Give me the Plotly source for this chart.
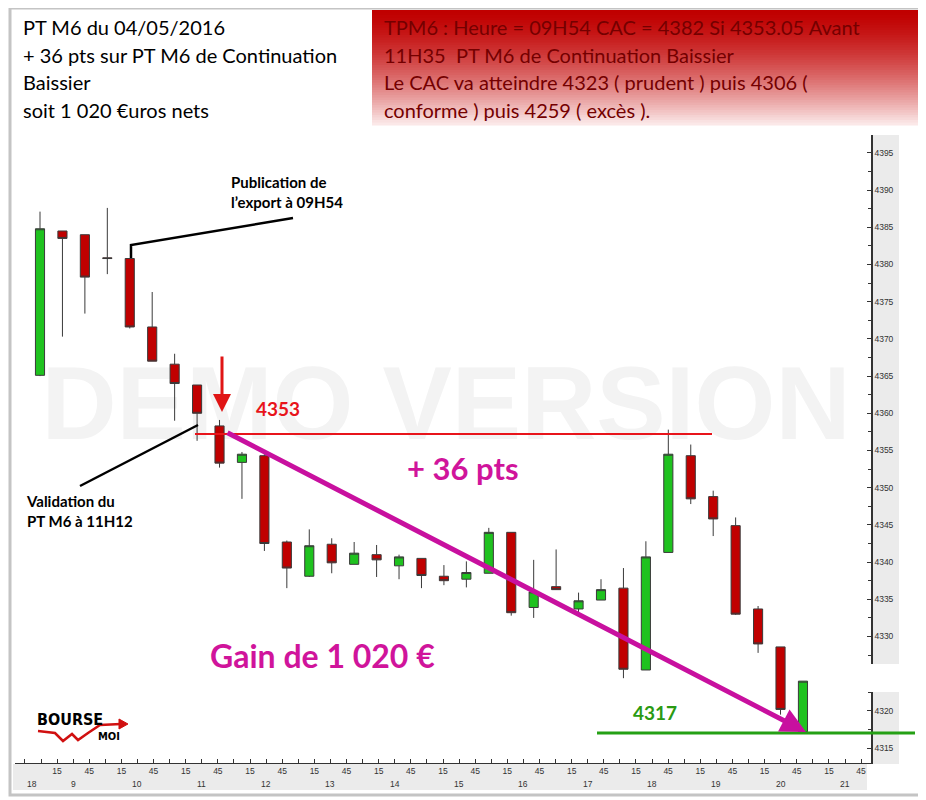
import plotly.graph_objects as go

# ---------------- data ----------------
opens  = [4365.1, 4384.5, 4384.0, 4380.9, 4380.8, 4371.6, 4366.6, 4363.8, 4358.3, 4353.4,
          4354.3, 4342.7, 4338.1, 4342.4, 4339.7, 4341.0, 4339.5, 4340.5, 4338.1, 4337.7,
          4338.5, 4344.0, 4333.9, 4336.7, 4333.7, 4334.9, 4336.5, 4325.5, 4341.3, 4354.3,
          4348.8, 4344.9, 4333.7, 4328.6, 4317.2]
highs  = [4387.1, 4384.5, 4384.0, 4387.6, 4380.8, 4376.3, 4368.0, 4363.8, 4359.1, 4354.8,
          4354.5, 4342.9, 4344.4, 4343.2, 4342.7, 4342.3, 4341.0, 4340.5, 4339.6, 4340.1,
          4344.6, 4344.0, 4340.3, 4341.7, 4335.9, 4337.7, 4339.2, 4342.8, 4357.8, 4355.8,
          4349.6, 4346.0, 4334.1, 4328.6, 4324.0]
lows   = [4365.0, 4370.3, 4373.4, 4378.7, 4371.4, 4367.0, 4359.0, 4356.3, 4352.7, 4348.5,
          4341.5, 4336.5, 4338.0, 4338.5, 4339.7, 4338.0, 4337.7, 4336.5, 4336.9, 4336.6,
          4338.5, 4332.8, 4332.5, 4336.3, 4333.1, 4334.9, 4324.4, 4325.5, 4341.3, 4347.8,
          4343.5, 4332.9, 4327.8, 4319.5, 4317.0]
closes = [4384.8, 4383.5, 4378.3, 4380.8, 4371.6, 4367.0, 4364.0, 4360.0, 4353.3, 4354.5,
          4342.5, 4339.2, 4342.2, 4339.9, 4341.2, 4340.3, 4340.7, 4338.2, 4337.5, 4338.6,
          4344.0, 4333.2, 4336.0, 4336.3, 4334.8, 4336.3, 4325.6, 4340.7, 4354.5, 4348.5,
          4345.8, 4333.0, 4329.0, 4320.2, 4324.0]

hour_labels = ["18", "9", "10", "11", "12", "13", "14", "15", "16", "17", "18", "19", "20", "21"]
minute_labels = {1: "15", 3: "45"}

left_text = ["PT M6 du 04/05/2016",
             "+ 36 pts sur PT M6 de Continuation",
             "Baissier",
             "soit 1 020 €uros nets"]
right_text = ["TPM6 : Heure = 09H54 CAC = 4382 Si 4353.05 Avant",
              "11H35 \u00a0PT M6 de Continuation Baissier",
              "Le CAC va atteindre 4323 ( prudent ) puis 4306 (",
              "conforme ) puis 4259 ( excès )."]

level_entry = 4353
level_target = 4317

# ---------------- layout geometry ----------------
# the page body adds an 8 px offset; the figure is sized and placed so that the
# helper functions below map reference-picture pixels to paper coordinates
OFF = 8
W, H = 926 - OFF, 800 - OFF
L, R, T, B = 15 - OFF, 55, 135 - OFF, 37
PW, PH = W - L - R, H - T - B

def px(xp):
    return (xp - OFF - L) / PW

def py(yp):
    return (H - B - (yp - OFF)) / PH

C0, STEP = 40.0, 22.44          # reference pixel of first candle, pixel per candle
Q0, QSTEP = 41.0, 16.08         # reference pixel of 9:00, pixel per quarter hour

def xdata(xp):
    return (xp - C0) / STEP

x = list(range(len(opens)))

fig = go.Figure()
fig.add_trace(go.Candlestick(
    x=x, open=opens, high=highs, low=lows, close=closes,
    increasing=dict(fillcolor="#1fc21f", line=dict(color="#3a3a3a", width=1)),
    decreasing=dict(fillcolor="#c00000", line=dict(color="#3a3a3a", width=1)),
    whiskerwidth=0, showlegend=False, hoverinfo="skip"))

# x ticks every quarter hour
tickvals, ticktext = [], []
for k in range(-1, 52):
    tickvals.append(xdata(Q0 + QSTEP * k))
    ticktext.append(minute_labels.get(k % 4, "") if k >= 0 else "")

shapes = []
annotations = []

# grey label bands
shapes.append(dict(type="rect", xref="paper", yref="paper", x0=px(13), x1=px(867), y0=py(790), y1=py(764),
                   fillcolor="#ebebeb", line=dict(width=0), layer="below"))
shapes.append(dict(type="rect", xref="paper", yref="paper", x0=px(872), x1=px(899), y0=py(764), y1=py(135),
                   fillcolor="#ebebeb", line=dict(width=0), layer="below"))

# watermark
shapes.append(dict(type="rect", xref="paper", yref="paper", x0=px(30), x1=px(862), y0=py(446), y1=py(340),
                   fillcolor="rgba(0,0,0,0)", line=dict(width=0), layer="below",
                   label=dict(text="<b>DEMO VERSION</b>",
                              font=dict(size=104, color="#f3f3f3", family="Liberation Sans"),
                              textposition="middle center")))

# outer frame
shapes.append(dict(type="rect", xref="paper", yref="paper", x0=px(10), x1=px(920), y0=py(795), y1=py(8),
                   line=dict(color="#c4c4c4", width=3), fillcolor="rgba(0,0,0,0)", layer="below"))

# red gradient header box
top_c, bot_c = (192, 0, 0), (252, 236, 236)
ns = 46
for i in range(ns):
    t = (i + 0.5) / ns
    f = t ** 1.5
    c = tuple(round(a + (b - a) * f) for a, b in zip(top_c, bot_c))
    y0 = 10 + 115 * i / ns
    y1 = 10 + 115 * (i + 1) / ns + 0.6
    shapes.append(dict(type="rect", xref="paper", yref="paper", x0=px(372), x1=px(918),
                       y0=py(y1), y1=py(y0), fillcolor="rgb(%d,%d,%d)" % c, line=dict(width=0), layer="below"))

# gap in the price axis
shapes.append(dict(type="rect", xref="paper", yref="paper", x0=px(858), x1=px(906), y0=py(692), y1=py(664),
                   fillcolor="white", line=dict(width=0), layer="above"))

def path(points):
    return "M " + " L ".join("%f,%f" % (px(a), py(b)) for a, b in points)

# annotation leader lines
shapes.append(dict(type="path", xref="paper", yref="paper", path=path([(131, 258), (131, 245), (293, 218)]),
                   line=dict(color="black", width=2.5), layer="above"))
shapes.append(dict(type="path", xref="paper", yref="paper", path=path([(80, 486), (198, 425)]),
                   line=dict(color="black", width=2.5), layer="above"))
# red entry line
shapes.append(dict(type="path", xref="paper", yref="paper", path=path([(195, 434), (712, 434)]),
                   line=dict(color="#e8141b", width=2), layer="above"))
# green target line
shapes.append(dict(type="path", xref="paper", yref="paper", path=path([(597, 733), (915, 733)]),
                   line=dict(color="#25a015", width=3), layer="above"))
# logo zigzag
shapes.append(dict(type="path", xref="paper", yref="paper",
                   path=path([(38, 731), (55, 733), (63, 741), (72, 734), (78, 740), (88, 733), (100, 725), (121, 724)]),
                   line=dict(color="#d01010", width=2.5), layer="above"))
shapes.append(dict(type="path", xref="paper", yref="paper",
                   path=path([(119, 719), (128, 724), (119, 729)]) + " Z",
                   fillcolor="#d01010", line=dict(color="#d01010", width=1), layer="above"))

# header texts
for i, s in enumerate(left_text):
    annotations.append(dict(xref="paper", yref="paper", x=px(21), y=py(27 + 27.7 * i), text=s,
                            showarrow=False, xanchor="left", yanchor="middle",
                            font=dict(family="Lato", size=20, color="black")))
for i, s in enumerate(right_text):
    annotations.append(dict(xref="paper", yref="paper", x=px(382), y=py(27 + 27.7 * i), text=s,
                            showarrow=False, xanchor="left", yanchor="middle",
                            font=dict(family="Lato", size=20, color="#740000")))

# hour labels
for j, s in enumerate(hour_labels):
    xp = 32 if j == 0 else Q0 + 4 * QSTEP * (j - 1) + 2 * QSTEP
    annotations.append(dict(xref="x", yref="paper", x=xdata(xp), y=py(784), text=s, showarrow=False,
                            xanchor="center", yanchor="middle",
                            font=dict(family="Liberation Sans", size=8.5, color="#333")))

# chart comments
annotations.append(dict(xref="paper", yref="paper", x=px(229), y=py(192),
                        text="<b>Publication de<br>l’export à 09H54</b>", showarrow=False,
                        xanchor="left", yanchor="middle", align="left",
                        font=dict(family="Lato", size=15, color="black")))
annotations.append(dict(xref="paper", yref="paper", x=px(24), y=py(511),
                        text="<b>Validation du<br>PT M6 à 11H12</b>", showarrow=False,
                        xanchor="left", yanchor="middle", align="left",
                        font=dict(family="Lato", size=15, color="black")))
annotations.append(dict(xref="paper", yref="paper", x=px(254), y=py(408),
                        text="<b>%d</b>" % level_entry, showarrow=False, xanchor="left", yanchor="middle",
                        font=dict(family="Lato", size=19, color="#e8141b")))
annotations.append(dict(xref="paper", yref="paper", x=px(631), y=py(712),
                        text="<b>%d</b>" % level_target, showarrow=False, xanchor="left", yanchor="middle",
                        font=dict(family="Lato", size=19, color="#2a9a12")))
annotations.append(dict(xref="paper", yref="paper", x=px(405), y=py(468),
                        text="<b>+ 36 pts</b>", showarrow=False, xanchor="left", yanchor="middle",
                        font=dict(family="Lato", size=31, color="#d0149b")))
annotations.append(dict(xref="paper", yref="paper", x=px(208), y=py(655),
                        text="<b>Gain de 1 020 €</b>", showarrow=False, xanchor="left", yanchor="middle",
                        font=dict(family="Lato", size=32, color="#d0149b")))
# logo
annotations.append(dict(xref="paper", yref="paper", x=px(35), y=py(719), text="<b>BOURSE</b>",
                        showarrow=False, xanchor="left", yanchor="middle",
                        font=dict(family="DejaVu Sans Condensed", size=16, color="black")))
annotations.append(dict(xref="paper", yref="paper", x=px(96), y=py(736), text="<b>MOI</b>",
                        showarrow=False, xanchor="left", yanchor="middle",
                        font=dict(family="DejaVu Sans Condensed", size=11, color="black")))

# arrows
annotations.append(dict(xref="paper", yref="paper", x=px(222), y=py(412), ax=0, ay=-57, text="",
                        showarrow=True, arrowhead=2, arrowsize=1.2, arrowwidth=3, arrowcolor="#e01515"))
annotations.append(dict(xref="paper", yref="paper", x=px(806), y=py(732), ax=-580, ay=-300, text="",
                        showarrow=True, arrowhead=2, arrowsize=1, arrowwidth=5, arrowcolor="#c8109f"))

fig.update_layout(
    width=W, height=H,
    margin=dict(l=L, r=R, t=T, b=B, pad=0),
    paper_bgcolor="white", plot_bgcolor="white",
    boxgap=0.42,
    shapes=shapes, annotations=annotations,
    showlegend=False,
    xaxis=dict(range=[xdata(15), xdata(871)], rangeslider=dict(visible=False),
               tickmode="array", tickvals=tickvals, ticktext=ticktext,
               ticks="inside", ticklen=4, tickcolor="#333", showline=True, linecolor="#333",
               linewidth=1, showgrid=False, zeroline=False,
               tickfont=dict(family="Liberation Sans", size=8.5, color="#333")),
    yaxis=dict(range=[4313.0, 4397.4], side="right", tick0=4315, dtick=5,
               ticks="inside", ticklen=4, tickcolor="#333",
               minor=dict(dtick=2.5, ticks="inside", ticklen=3, tickcolor="#333"),
               showline=True, linecolor="#333", linewidth=1.5, showgrid=False, zeroline=False,
               tickfont=dict(family="Liberation Sans", size=8.5, color="#333")),
)

fig.write_html("out.html")
